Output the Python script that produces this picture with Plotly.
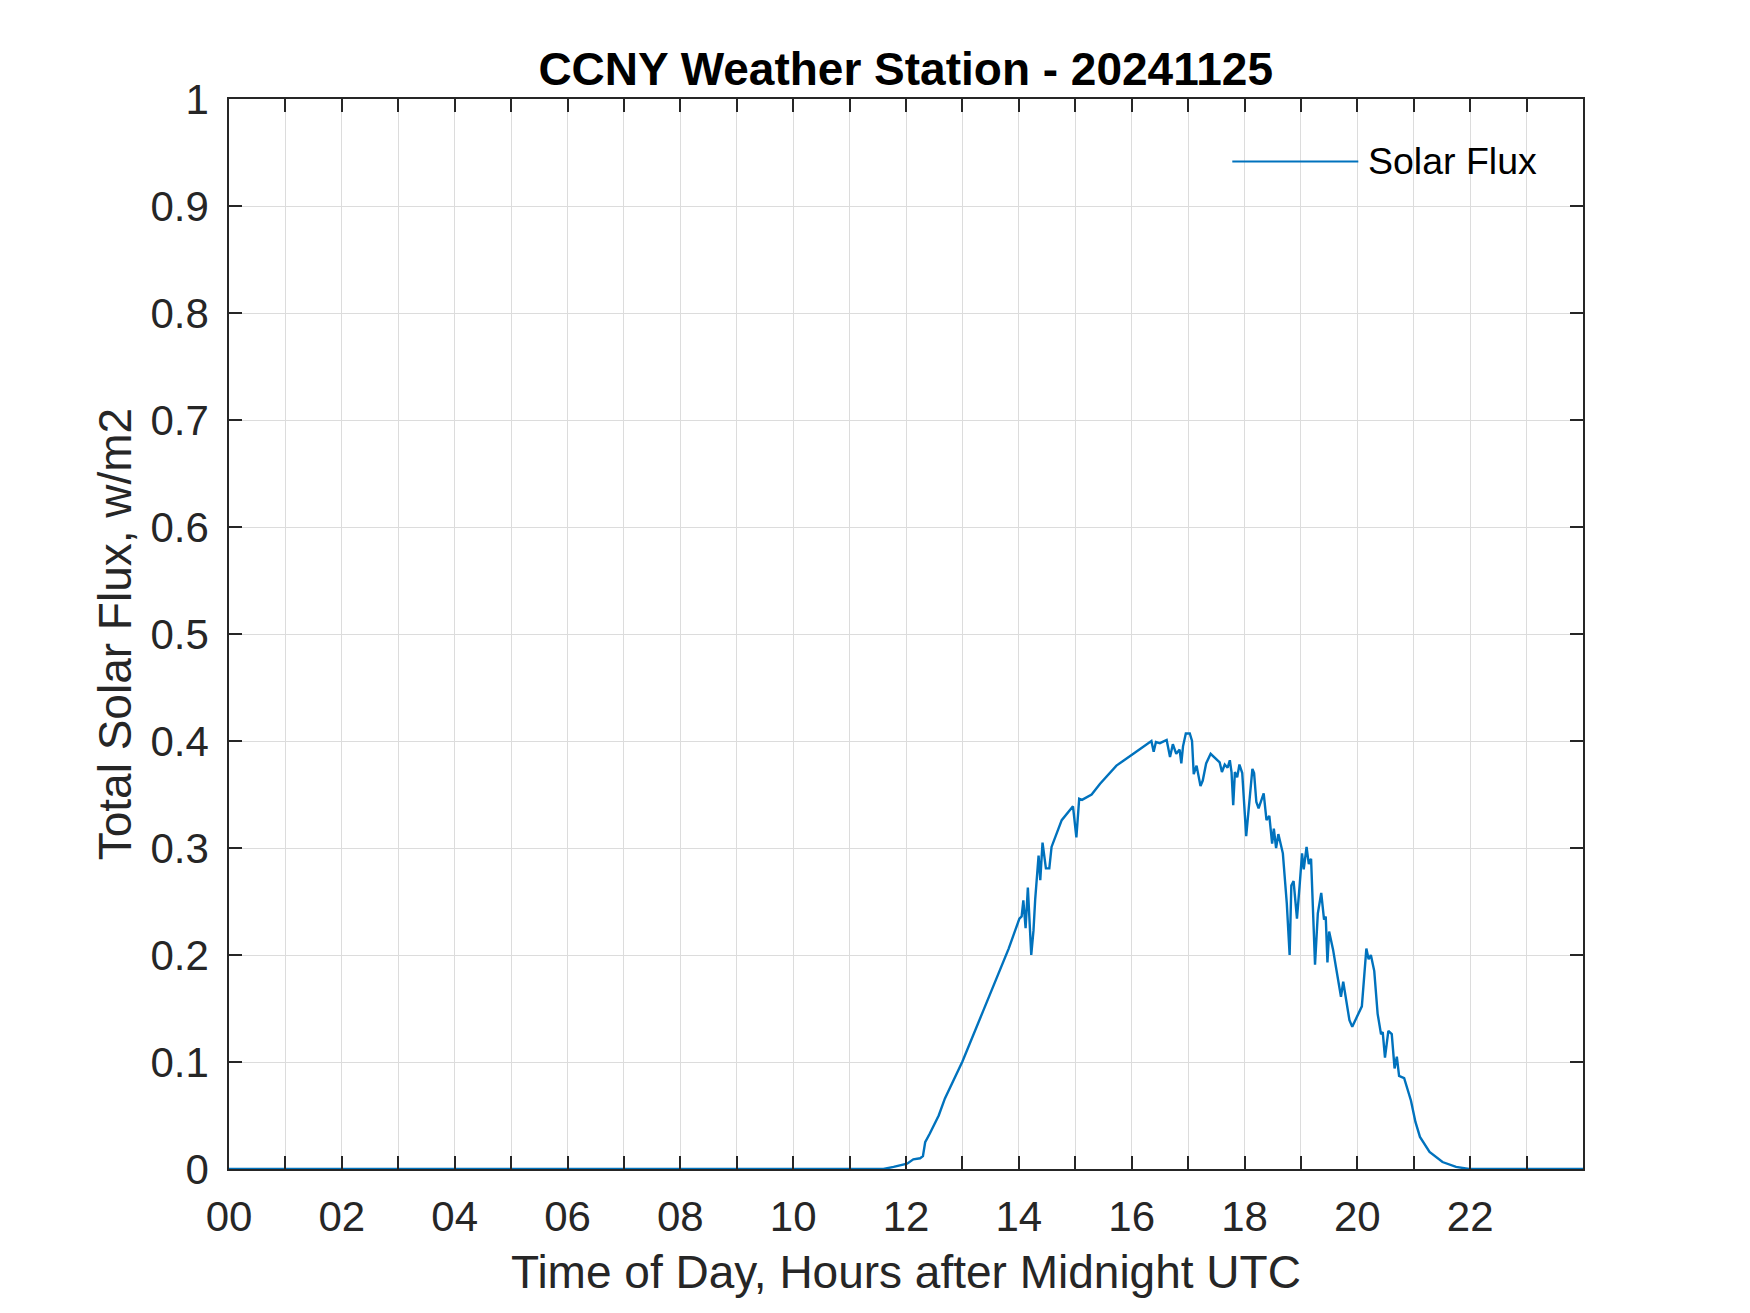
import plotly.graph_objects as go

# ---- data ----
hours = [0.0, 11.6, 11.78, 12.02, 12.13, 12.25, 12.30, 12.34, 12.42, 12.52, 12.58, 12.69,
         13.00, 13.37, 13.82, 14.01, 14.05, 14.08, 14.12, 14.16, 14.22, 14.26, 14.29, 14.35,
         14.38, 14.42, 14.48, 14.54, 14.58, 14.76, 14.96, 15.02, 15.07, 15.12, 15.29, 15.44,
         15.73, 16.03, 16.35, 16.39, 16.43, 16.50, 16.62, 16.68, 16.73, 16.79, 16.85, 16.88,
         16.91, 16.96, 17.03, 17.07, 17.10, 17.15, 17.22, 17.26, 17.32, 17.40, 17.56, 17.60,
         17.65, 17.70, 17.74, 17.77, 17.80, 17.83, 17.87, 17.91, 17.96, 18.03, 18.08, 18.14,
         18.17, 18.21, 18.25, 18.34, 18.39, 18.44, 18.49, 18.52, 18.56, 18.60, 18.68, 18.75,
         18.80, 18.83, 18.87, 18.93, 18.98, 19.02, 19.05, 19.10, 19.14, 19.18, 19.25, 19.30,
         19.36, 19.41, 19.44, 19.47, 19.50, 19.57, 19.62, 19.67, 19.71, 19.75, 19.80, 19.86,
         19.91, 19.97, 20.03, 20.08, 20.16, 20.20, 20.24, 20.30, 20.36, 20.42, 20.45, 20.49,
         20.55, 20.61, 20.66, 20.70, 20.74, 20.83, 20.95, 21.03, 21.11, 21.28, 21.51, 21.75,
         21.98, 24.0]
flux = [0.0, 0.0, 0.002, 0.005, 0.009, 0.010, 0.012, 0.025, 0.033, 0.044, 0.050, 0.066,
        0.1005, 0.148, 0.206, 0.234, 0.236, 0.251, 0.225, 0.263, 0.200, 0.223, 0.252, 0.293,
        0.270, 0.305, 0.281, 0.281, 0.301, 0.326, 0.339, 0.310, 0.346, 0.345, 0.350, 0.360,
        0.377, 0.388, 0.400, 0.390, 0.399, 0.398, 0.401, 0.385, 0.397, 0.388, 0.392, 0.379,
        0.395, 0.407, 0.407, 0.400, 0.369, 0.377, 0.358, 0.363, 0.379, 0.388, 0.380, 0.371,
        0.378, 0.375, 0.382, 0.371, 0.340, 0.371, 0.366, 0.378, 0.370, 0.311, 0.340, 0.374,
        0.370, 0.343, 0.337, 0.351, 0.326, 0.330, 0.304, 0.318, 0.300, 0.313, 0.295, 0.248,
        0.200, 0.265, 0.269, 0.234, 0.267, 0.295, 0.280, 0.301, 0.285, 0.290, 0.191, 0.239,
        0.258, 0.233, 0.236, 0.193, 0.222, 0.205, 0.189, 0.175, 0.161, 0.175, 0.158, 0.139,
        0.133, 0.140, 0.147, 0.152, 0.206, 0.196, 0.200, 0.185, 0.145, 0.126, 0.128, 0.104,
        0.129, 0.126, 0.094, 0.105, 0.087, 0.085, 0.064, 0.044, 0.030, 0.016, 0.0065, 0.002,
        0.0, 0.0]

x_tickvals = list(range(0, 24))
x_ticktext = [f"{h:02d}" if h % 2 == 0 else "" for h in x_tickvals]
y_tickvals = [i / 10 for i in range(11)]
y_ticktext = ["0", "0.1", "0.2", "0.3", "0.4", "0.5", "0.6", "0.7", "0.8", "0.9", "1"]

title_text = "CCNY Weather Station - 20241125"
xlabel = "Time of Day, Hours after Midnight UTC"
ylabel = "Total Solar Flux, w/m2"
series_name = "Solar Flux"

LINE_COLOR = "#0072BD"
AX_COLOR = "#262626"
GRID_COLOR = "#dcdcdc"
FONT = "Arial, Liberation Sans, Helvetica, sans-serif"

OFF = 8  # page body margin in the browser
W, H = 1750 - OFF, 1313 - OFF
pw, ph = 1354.0, 1070.1
ml, mt = 228.7 - OFF, 98.5 - OFF
mr, mb = W - ml - pw, H - mt - ph

fig = go.Figure()
fig.add_trace(go.Scatter(x=hours, y=flux, mode="lines", name=series_name,
                         line=dict(color=LINE_COLOR, width=2.4), showlegend=False))

axis_common = dict(showline=True, linecolor=AX_COLOR, linewidth=1.5, mirror="allticks",
                   ticks="inside", ticklen=13, tickwidth=1.5, tickcolor=AX_COLOR,
                   showgrid=True, gridcolor=GRID_COLOR, gridwidth=1.3, zeroline=False,
                   tickfont=dict(family=FONT, size=42, color=AX_COLOR))

fig.update_xaxes(range=[0, 24], tickmode="array", tickvals=x_tickvals, ticktext=x_ticktext,
                 ticklabelstandoff=10, **axis_common)
fig.update_yaxes(range=[0, 1], tickmode="array", tickvals=y_tickvals, ticktext=y_ticktext,
                 ticklabelstandoff=10, **axis_common)

fig.update_layout(
    width=W, height=H,
    margin=dict(l=ml, r=mr, t=mt, b=mb, pad=0),
    paper_bgcolor="white", plot_bgcolor="white",
    title=dict(text=f"<b>{title_text}</b>", x=(ml + pw / 2) / W, xanchor="center",
               xref="container", yref="container", y=1 - (69 - OFF) / H, yanchor="middle",
               font=dict(family=FONT, size=46, color="black")),
    showlegend=False,
)

fig.add_annotation(text=xlabel, xref="paper", yref="paper", x=0.5,
                   y=(mt + ph - (1272 - OFF)) / ph,
                   xanchor="center", yanchor="middle", showarrow=False,
                   font=dict(family=FONT, size=46, color=AX_COLOR))
fig.add_annotation(text=ylabel, xref="paper", yref="paper", x=((115 - OFF) - ml) / pw, y=0.5,
                   xanchor="center", yanchor="middle", textangle=-90, showarrow=False,
                   font=dict(family=FONT, size=46, color=AX_COLOR))

# legend (box off), drawn in paper coordinates
ly = (mt + ph - (161 - OFF)) / ph
fig.add_shape(type="line", xref="paper", yref="paper",
              x0=((1232 - OFF) - ml) / pw, x1=((1358 - OFF) - ml) / pw,
              y0=ly, y1=ly, line=dict(color=LINE_COLOR, width=2))
fig.add_annotation(text=series_name, xref="paper", yref="paper", x=((1366 - OFF) - ml) / pw,
                   y=ly, xanchor="left", yanchor="middle", showarrow=False,
                   font=dict(family=FONT, size=37.5, color="black"))

fig.write_html("out.html")
